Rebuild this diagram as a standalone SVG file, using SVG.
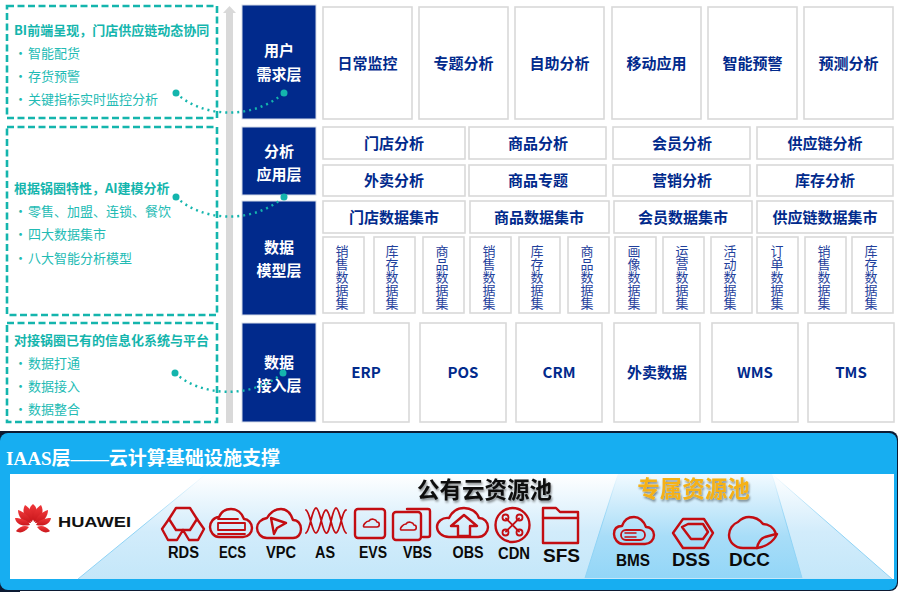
<svg xmlns="http://www.w3.org/2000/svg" width="900" height="592" viewBox="0 0 900 592">
<style>
text{font-family:"Noto Sans CJK SC","Liberation Sans",sans-serif}
.note{fill:#fff;stroke:#14b5ad;stroke-width:2.6;stroke-dasharray:7 3.5}
.nh{fill:#14b5ad;font-size:13px;font-weight:700}
.nt{fill:#22bbb4;font-size:13px}
.dot{fill:#14b5ad}
.link{fill:none;stroke:#14b5ad;stroke-width:2.4;stroke-dasharray:2 4}
.layer{fill:#012a8c;stroke:#d5dbe8;stroke-width:1}
.lt{fill:#fff;font-size:15px;font-weight:700;text-anchor:middle}
.cell{fill:#fff;stroke:#d9d9d9;stroke-width:1.6}
.ct{fill:#012a8c;font-size:15px;font-weight:700;text-anchor:middle}
.vt{fill:#1f3f9c;font-size:13px;writing-mode:vertical-rl;text-orientation:upright}
.ic{fill:none;stroke:#c30d12;stroke-width:2.4;stroke-linejoin:round;stroke-linecap:round}
.il{fill:#0a0a0a;font-family:"Liberation Sans",sans-serif;font-weight:700;text-anchor:middle;font-size:16px}
</style>
<defs>
<linearGradient id="pub" x1="0" y1="0" x2="0" y2="1"><stop offset="0" stop-color="#fff"/><stop offset=".55" stop-color="#d2ecfb"/><stop offset="1" stop-color="#c4e7f9"/></linearGradient>
<linearGradient id="pri" x1="0" y1="0" x2="0" y2="1"><stop offset="0" stop-color="#f2faff"/><stop offset=".6" stop-color="#a8ddf8"/><stop offset="1" stop-color="#93d6f7"/></linearGradient>
<linearGradient id="edgeg" gradientUnits="userSpaceOnUse" x1="0" y1="474" x2="0" y2="579"><stop offset="0" stop-color="#8fd3f5" stop-opacity="0"/><stop offset=".5" stop-color="#8fd3f5"/><stop offset="1" stop-color="#8fd3f5"/></linearGradient>
<linearGradient id="petal" x1="0" y1="0" x2="0" y2="1"><stop offset="0" stop-color="#f0383a"/><stop offset="1" stop-color="#c8161b"/></linearGradient>
<filter id="sh" x="-10%" y="-20%" width="125%" height="150%"><feDropShadow dx="1" dy="2" stdDeviation="1.2" flood-color="#000" flood-opacity=".45"/></filter>
</defs>
<rect width="900" height="592" fill="#fff"/>

<polygon id="axis" points="226,423 226,13 223,13 229.500,6 236,13 233,13 233,423" fill="#d9d9d9"/>

<g id="note-bi">
<rect class="note" x="7" y="6" width="210" height="112"/>
<text class="nh" x="14" y="35">BI前端呈现，门店供应链动态协同</text>
<text class="nt" x="14" y="58">•</text><text class="nt" x="28" y="58">智能配货</text>
<text class="nt" x="14" y="81">•</text><text class="nt" x="28" y="81">存货预警</text>
<text class="nt" x="14" y="104">•</text><text class="nt" x="28" y="104">关键指标实时监控分析</text>
</g>
<g id="note-ai">
<rect class="note" x="7" y="127" width="210" height="188"/>
<text class="nh" x="14" y="193">根据锅圈特性，AI建模分析</text>
<text class="nt" x="14" y="216">•</text><text class="nt" x="28" y="216">零售、加盟、连锁、餐饮</text>
<text class="nt" x="14" y="239">•</text><text class="nt" x="28" y="239">四大数据集市</text>
<text class="nt" x="14" y="263">•</text><text class="nt" x="28" y="263">八大智能分析模型</text>
</g>
<g id="note-data">
<rect class="note" x="7" y="323" width="210" height="99"/>
<text class="nh" x="14" y="345">对接锅圈已有的信息化系统与平台</text>
<text class="nt" x="14" y="368">•</text><text class="nt" x="28" y="368">数据打通</text>
<text class="nt" x="14" y="391">•</text><text class="nt" x="28" y="391">数据接入</text>
<text class="nt" x="14" y="414">•</text><text class="nt" x="28" y="414">数据整合</text>
</g>

<g id="layer-user"><rect class="layer" x="242" y="5" width="74" height="114"/><text class="lt" x="279" y="56">用户</text><text class="lt" x="279" y="80">需求层</text></g>
<g id="layer-app"><rect class="layer" x="242" y="127" width="74" height="68"/><text class="lt" x="279" y="157">分析</text><text class="lt" x="279" y="180">应用层</text></g>
<g id="layer-model"><rect class="layer" x="242" y="201" width="74" height="114"/><text class="lt" x="279" y="253">数据</text><text class="lt" x="279" y="276">模型层</text></g>
<g id="layer-access"><rect class="layer" x="242" y="323" width="74" height="99"/><text class="lt" x="279" y="368">数据</text><text class="lt" x="279" y="391">接入层</text></g>

<g id="connectors">
<path class="link" d="M176,93C200,116 250,122 284,93"/>
<path class="link" d="M176,197C200,220 250,226 284,197"/>
<path class="link" d="M175,373C200,396 250,400 283,373"/>
<circle class="dot" cx="176" cy="93" r="3.500"/><circle class="dot" cx="284" cy="93" r="3.500"/>
<circle class="dot" cx="176" cy="197" r="3.500"/><circle class="dot" cx="284" cy="197" r="3.500"/>
<circle class="dot" cx="175" cy="373" r="3.500"/><circle class="dot" cx="283" cy="373" r="3.500"/>
</g>

<g id="row-demand">
<g id="d1"><rect class="cell" x="323" y="7" width="89" height="112"/><text class="ct" x="367.500" y="69">日常监控</text></g>
<g id="d2"><rect class="cell" x="419" y="7" width="89" height="112"/><text class="ct" x="463.500" y="69">专题分析</text></g>
<g id="d3"><rect class="cell" x="515" y="7" width="89" height="112"/><text class="ct" x="559.500" y="69">自助分析</text></g>
<g id="d4"><rect class="cell" x="612" y="7" width="89" height="112"/><text class="ct" x="656.500" y="69">移动应用</text></g>
<g id="d5"><rect class="cell" x="708" y="7" width="89" height="112"/><text class="ct" x="752.500" y="69">智能预警</text></g>
<g id="d6"><rect class="cell" x="804" y="7" width="89" height="112"/><text class="ct" x="848.500" y="69">预测分析</text></g>
</g>
<g id="row-app">
<g id="a1"><rect class="cell" x="323" y="127" width="142" height="32"/><text class="ct" x="394" y="149">门店分析</text></g>
<g id="a2"><rect class="cell" x="469" y="127" width="137" height="32"/><text class="ct" x="538" y="149">商品分析</text></g>
<g id="a3"><rect class="cell" x="613" y="127" width="137" height="32"/><text class="ct" x="682" y="149">会员分析</text></g>
<g id="a4"><rect class="cell" x="757" y="127" width="136" height="32"/><text class="ct" x="825" y="149">供应链分析</text></g>
<g id="a5"><rect class="cell" x="323" y="165" width="142" height="31"/><text class="ct" x="394" y="186">外卖分析</text></g>
<g id="a6"><rect class="cell" x="469" y="165" width="137" height="31"/><text class="ct" x="538" y="186">商品专题</text></g>
<g id="a7"><rect class="cell" x="613" y="165" width="137" height="31"/><text class="ct" x="682" y="186">营销分析</text></g>
<g id="a8"><rect class="cell" x="757" y="165" width="136" height="31"/><text class="ct" x="825" y="186">库存分析</text></g>
</g>
<g id="row-mart">
<g id="m1"><rect class="cell" x="323" y="201" width="142" height="32"/><text class="ct" x="394" y="223">门店数据集市</text></g>
<g id="m2"><rect class="cell" x="470" y="201" width="139" height="32"/><text class="ct" x="539" y="223">商品数据集市</text></g>
<g id="m3"><rect class="cell" x="614" y="201" width="138" height="32"/><text class="ct" x="683" y="223">会员数据集市</text></g>
<g id="m4"><rect class="cell" x="757" y="201" width="136" height="32"/><text class="ct" x="825" y="223">供应链数据集市</text></g>
</g>
<g id="row-sets">
<g id="s1"><rect class="cell" x="323" y="237" width="41" height="76"/><text class="vt" x="342" y="245">销售数据集</text></g>
<g id="s2"><rect class="cell" x="374" y="237" width="41" height="76"/><text class="vt" x="392" y="245">库存数据集</text></g>
<g id="s3"><rect class="cell" x="423" y="237" width="41" height="76"/><text class="vt" x="442" y="245">商品数据集</text></g>
<g id="s4"><rect class="cell" x="470" y="237" width="41" height="76"/><text class="vt" x="489" y="245">销售数据集</text></g>
<g id="s5"><rect class="cell" x="519" y="237" width="41" height="76"/><text class="vt" x="537" y="245">库存数据集</text></g>
<g id="s6"><rect class="cell" x="568" y="237" width="41" height="76"/><text class="vt" x="587" y="245">商品数据集</text></g>
<g id="s7"><rect class="cell" x="615" y="237" width="41" height="76"/><text class="vt" x="634" y="245">画像数据集</text></g>
<g id="s8"><rect class="cell" x="663" y="237" width="41" height="76"/><text class="vt" x="682" y="245">运营数据集</text></g>
<g id="s9"><rect class="cell" x="711" y="237" width="41" height="76"/><text class="vt" x="730" y="245">活动数据集</text></g>
<g id="s10"><rect class="cell" x="757" y="237" width="41" height="76"/><text class="vt" x="777" y="245">订单数据集</text></g>
<g id="s11"><rect class="cell" x="805" y="237" width="41" height="76"/><text class="vt" x="824" y="245">销售数据集</text></g>
<g id="s12"><rect class="cell" x="852" y="237" width="41" height="76"/><text class="vt" x="871" y="245">库存数据集</text></g>
</g>
<g id="row-access">
<g id="e1"><rect class="cell" x="323" y="323" width="86" height="99"/><text class="ct" x="366" y="378">ERP</text></g>
<g id="e2"><rect class="cell" x="420" y="323" width="86" height="99"/><text class="ct" x="463" y="378">POS</text></g>
<g id="e3"><rect class="cell" x="516" y="323" width="86" height="99"/><text class="ct" x="559" y="378">CRM</text></g>
<g id="e4"><rect class="cell" x="614" y="323" width="86" height="99"/><text class="ct" x="657" y="378">外卖数据</text></g>
<g id="e5"><rect class="cell" x="712" y="323" width="86" height="99"/><text class="ct" x="755" y="378">WMS</text></g>
<g id="e6"><rect class="cell" x="808" y="323" width="86" height="99"/><text class="ct" x="851" y="378">TMS</text></g>
</g>

<g id="iaas">
<rect x="0" y="431" width="898" height="160" rx="8" fill="#0c1a33"/>
<rect x="0" y="431" width="20" height="161" fill="#0c1a33"/>
<rect x="0" y="433" width="897" height="157" rx="8" fill="#17aef1"/>
<text x="6" y="465" fill="#fff" font-size="19" font-weight="700" textLength="274" lengthAdjust="spacing" style="font-family:'Liberation Serif','Noto Sans CJK SC',serif">IAAS层——云计算基础设施支撑</text>
<rect x="10" y="474" width="884" height="105" fill="#fff"/>
<polygon points="78,579 206,474 772,474 892,579" fill="url(#pub)"/>
<polygon points="585,578 618,474 772,474 802,578" fill="url(#pri)"/>
<path fill="none" stroke="url(#edgeg)" d="M78,579L206,474M772,474L892,579M585,578L618,474M772,474L802,578"/>
</g>

<g id="huawei">
<g fill="url(#petal)">
<path d="M33,521C27,513 29,507 33,504C37,507 39,513 33,521Z"/>
<path d="M32,522C23,519 22,510 25,505C30,508 34,514 32,522Z"/>
<path d="M34,522C43,519 44,510 41,505C36,508 32,514 34,522Z"/>
<path d="M31,523C22,523 18,516 18,510C24,512 30,516 31,523Z"/>
<path d="M35,523C44,523 48,516 48,510C42,512 36,516 35,523Z"/>
<path d="M30,525C22,527 16,524 15,518C21,518 28,520 30,525Z"/>
<path d="M36,525C44,527 50,524 51,518C45,518 38,520 36,525Z"/>
<path d="M29,527C25,532 20,534 16,531C20,526 25,525 29,527Z"/>
<path d="M37,527C41,532 46,534 50,531C46,526 41,525 37,527Z"/>
</g>
<text x="58" y="527" fill="#111" font-size="15.500" font-weight="700" style="font-family:'Liberation Sans',sans-serif" textLength="73" lengthAdjust="spacingAndGlyphs">HUAWEI</text>
</g>

<text id="pub-title" x="484.500" y="498" font-size="22.500" font-weight="700" text-anchor="middle" fill="#0a0a0a" filter="url(#sh)">公有云资源池</text>
<text id="pri-title" x="693.500" y="497" font-size="22.500" font-weight="700" text-anchor="middle" fill="#f5b117" filter="url(#sh)">专属资源池</text>

<g id="svc-rds">
<path class="ic" d="M176,508h14l7,11-7,11h-14l-7,-11z"/>
<path class="ic" d="M169,519l-7,10 6,11h9l6,-10M197,519l7,10-6,11h-9l-6,-10"/>
<text class="il" x="183.500" y="558" textLength="31" lengthAdjust="spacingAndGlyphs">RDS</text></g>
<g id="svc-ecs">
<path class="ic" d="M219,537h24c5,0 9,-4 9,-9s-4,-9 -8,-9c-2,-6 -7,-10 -13,-10c-6,0 -10,3 -12,8c-5,0 -9,5 -9,10s4,10 9,10z"/>
<path class="ic" d="M218,523h27v7h-27zM218,519h20M218,534h27" style="stroke-width:1.800"/>
<text class="il" x="232.500" y="558" textLength="27" lengthAdjust="spacingAndGlyphs">ECS</text></g>
<g id="svc-vpc">
<path class="ic" d="M267,538h26c5,0 8,-4 8,-9s-3,-9 -8,-9c-2,-6 -6,-11 -12,-11c-7,0 -11,4 -14,9c-6,1 -10,5 -10,10s4,10 10,10z"/>
<path class="ic" d="M271,518l15,5-9,5-3,6z"/>
<text class="il" x="281" y="558" textLength="30" lengthAdjust="spacingAndGlyphs">VPC</text></g>
<g id="svc-as">
<path class="ic" style="stroke-width:1.800" d="M306,533c4,-2 6,-25 10,-25s6,23 10,25 6,-25 10,-25 6,23 10,25M306,510c4,2 6,23 10,23s6,-23 10,-23 6,23 10,23 6,-23 10,-23"/>
<text class="il" x="325" y="558" textLength="20" lengthAdjust="spacingAndGlyphs">AS</text></g>
<g id="svc-evs">
<rect class="ic" x="355" y="509" width="30" height="29" rx="3"/>
<path class="ic" style="stroke-width:1.600" d="M364,527h13c3,0 3,-5 0,-5c-1,-3 -6,-4 -8,-1c-3,0 -7,5 -5,6z"/>
<text class="il" x="373" y="558" textLength="28" lengthAdjust="spacingAndGlyphs">EVS</text></g>
<g id="svc-vbs">
<path class="ic" d="M407,509h21c1,0 2,1 2,2v24c0,1 -1,2 -2,2h-5"/>
<rect class="ic" x="393" y="512" width="28" height="28" rx="3" fill="#fff"/>
<path class="ic" style="stroke-width:1.600" d="M401,530h13c3,0 3,-5 0,-5c-1,-3 -6,-4 -8,-1c-3,0 -7,5 -5,6z"/>
<text class="il" x="417.500" y="558" textLength="29" lengthAdjust="spacingAndGlyphs">VBS</text></g>
<g id="svc-obs">
<path class="ic" d="M449,537h29c6,0 10,-5 10,-10s-4,-9 -9,-9c-2,-6 -8,-10 -15,-10c-7,0 -12,4 -15,10c-7,-1 -12,4 -12,9s5,10 12,10z"/>
<path class="ic" d="M451,526l13,-11 13,11h-7v10h-12v-10z"/>
<text class="il" x="468" y="558" textLength="31" lengthAdjust="spacingAndGlyphs">OBS</text></g>
<g id="svc-cdn">
<circle class="ic" cx="512.500" cy="525" r="17"/>
<path class="ic" style="stroke-width:1.800" d="M506,518.500l13,13M519,518.500l-13,13"/>
<circle class="ic" style="stroke-width:1.800" cx="505.500" cy="517.500" r="3"/><circle class="ic" style="stroke-width:1.800" cx="519.500" cy="517.500" r="3"/><circle class="ic" style="stroke-width:1.800" cx="505.500" cy="532.500" r="3"/><circle class="ic" style="stroke-width:1.800" cx="519.500" cy="532.500" r="3"/>
<text class="il" x="514" y="559" textLength="32" lengthAdjust="spacingAndGlyphs">CDN</text></g>
<g id="svc-sfs">
<path class="ic" d="M543,508h13l4,4h18v31h-35z"/>
<path class="ic" d="M543,518h35"/>
<text class="il" x="561.500" y="562" style="font-size:19px" textLength="37" lengthAdjust="spacingAndGlyphs">SFS</text></g>
<g id="svc-bms">
<path class="ic" d="M623,544h22c5,0 9,-4 9,-9s-4,-8 -8,-8c-2,-6 -7,-10 -12,-10c-6,0 -10,3 -12,9c-5,0 -8,3 -8,8s4,10 9,10z"/>
<rect class="ic" x="621" y="530" width="24" height="10" rx="5" style="stroke-width:1.800"/>
<path class="ic" style="stroke-width:1.500" d="M625,533h11M625,537h11"/>
<text class="il" x="633" y="566" textLength="34" lengthAdjust="spacingAndGlyphs">BMS</text></g>
<g id="svc-dss">
<path class="ic" d="M683,519h21l9,14-9,15h-21l-10,-15z"/>
<path class="ic" d="M682,527l6,-3h15l5,8-5,7h-12l-9,-12z"/>
<text class="il" x="691" y="566" style="font-size:19px" textLength="38" lengthAdjust="spacingAndGlyphs">DSS</text></g>
<g id="svc-dcc">
<path class="ic" d="M757,548h-14c-8,0 -14,-6 -14,-13c0,-6 4,-11 9,-13c3,-3 7,-5 11,-5c7,0 11,3 14,7c5,0 11,3 13,10l-11,3c-5,2 -7,6 -8,11z"/>
<path class="ic" d="M757,548c7,-1 16,-5 20,-14"/>
<text class="il" x="749.500" y="566" style="font-size:19px" textLength="41" lengthAdjust="spacingAndGlyphs">DCC</text></g>
</svg>
